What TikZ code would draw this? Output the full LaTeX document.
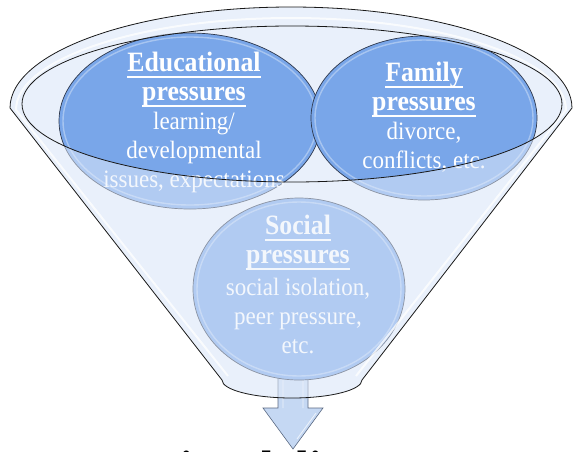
\documentclass[tikz,border=0pt]{standalone}
\usepackage{fontspec}
\setmainfont{Liberation Serif}
\newfontfamily\bubblefont{Liberation Serif}[FakeStretch=0.92]
\usetikzlibrary{shapes.geometric}

\definecolor{funnelfill}{RGB}{233,240,251}
\definecolor{bubblefill}{RGB}{121,166,233}
\definecolor{bubbleedge}{RGB}{45,55,75}
\definecolor{arrowfill}{RGB}{197,216,243}
\definecolor{arrowedge}{RGB}{90,105,130}

% underlined bold heading inside a bubble
\newcommand\bubbletitle[1]{{\bfseries\fontsize{28}{29}\selectfont
  \setbox0\hbox{#1}\rlap{\rule[-6pt]{\wd0}{1.4pt}}\box0}}

\begin{document}
\begin{tikzpicture}[x=1pt, y=-1pt,
  bubble/.style={ellipse, fill=bubblefill, draw=bubbleedge, line width=0.7pt, inner sep=0pt},
  gloss/.style={white, opacity=0.35, line width=1.4pt},
  bubbletext/.style={text=white, align=center, inner sep=0pt, anchor=north,
    font=\bubblefont\fontsize{25}{29}\selectfont},
  funnelline/.style={draw=black!90, line width=0.8pt},
  rimlight/.style={white, opacity=0.75, line width=2pt},
  blockarrow/.style={fill=arrowfill, draw=arrowedge, line width=0.6pt},
  outcometext/.style={anchor=base west, inner sep=0pt, text=black,
    font=\fontsize{44}{44}\selectfont\bfseries}]

\useasboundingbox (0,0) rectangle (574,451);
\clip (0,0) rectangle (574,451);

% funnel body (rim plus cone)
\fill[funnelfill] (10,108) arc[start angle=180, end angle=360, x radius=281, y radius=101]
  -- (362,380) arc[start angle=0, end angle=180, x radius=70, y radius=18] -- cycle;

% outcome line below the funnel, mostly below the lower edge
\node[outcometext] (outcome) at (78,481.5) {Emotional distress};

% output arrow
\coordinate (spout) at (293,378);
\draw[blockarrow] (278,378) -- (308,378) -- (308,408) -- (323,408) -- (293,449)
  -- (263,408) -- (278,408) -- cycle;
\draw[white, opacity=0.7, line width=0.8pt] (283,380) -- (283,408) (303,380) -- (303,408)
  (316,413) -- (297,439);

% pressure bubbles
\node[bubble, minimum width=262pt, minimum height=176pt] (edu) at (190,121) {};
\draw[gloss] (edu.center) ellipse [x radius=127, y radius=84];
\node[bubble, minimum width=226pt, minimum height=164pt] (fam) at (424,118) {};
\draw[gloss] (fam.center) ellipse [x radius=109, y radius=78];
\node[bubble, minimum width=212pt, minimum height=182pt] (soc) at (299,289) {};
\draw[gloss] (soc.center) ellipse [x radius=102, y radius=87];

\node[bubbletext] (edutext) at (194,52)
  {\bubbletitle{Educational}\\ \bubbletitle{pressures}\\ learning/\\ developmental\\ issues, expectations};
\node[bubbletext] (famtext) at (424,62)
  {\bubbletitle{Family}\\ \bubbletitle{pressures}\\ divorce,\\ conflicts, etc.};
\node[bubbletext] (soctext) at (298,215)
  {\bubbletitle{Social}\\ \bubbletitle{pressures}\\[3pt] social isolation,\\ peer pressure,\\ etc.};

% front wall of the funnel, seen through
\fill[funnelfill, opacity=0.5, even odd rule]
  (10,108) arc[start angle=180, end angle=360, x radius=281, y radius=101]
  -- (362,380) arc[start angle=0, end angle=180, x radius=70, y radius=18] -- cycle
  (292,104) ellipse [x radius=270, y radius=78];

% glassy highlight along rim and sides
\draw[rimlight] (228,376) -- (16,110)
  arc[start angle=180, end angle=360, x radius=275, y radius=92] -- (356,376);

% funnel outlines
\draw[funnelline] (10,108) arc[start angle=180, end angle=360, x radius=281, y radius=101]
  -- (362,380) arc[start angle=0, end angle=180, x radius=70, y radius=18] -- cycle;
\draw[funnelline] (292,104) ellipse [x radius=270, y radius=78];

\end{tikzpicture}
\end{document}
